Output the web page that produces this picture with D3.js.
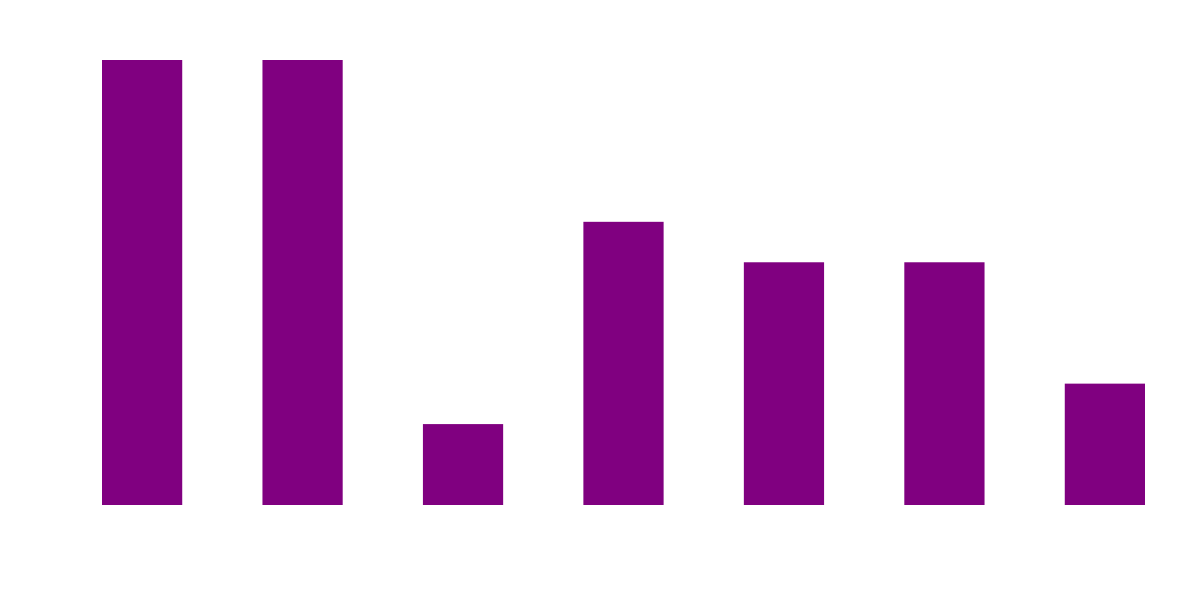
<!DOCTYPE html>
<html>
<head>
<meta charset="utf-8">
<script src="https://cdn.jsdelivr.net/npm/d3@7"></script>
<style>
    body { margin: 0; background: white; }
</style>
</head>
<body>
<div id="the_chart"></div>
<script>
// values
const categories = ["A", "B", "C", "D", "E", "F", "G"];
const values = [11, 11, 2, 7, 6, 6, 3];

var w = 1200, h = 600;
var padLeft = 102, padRight = 1145, padTop = 60, padBottom = 505;

var svg = d3.select("#the_chart")
    .append("svg")
    .attr("width", w)
    .attr("height", h);

var xscale = d3.scaleBand()
    .domain(categories)
    .range([padLeft, padRight])
    .paddingInner(0.5)
    .paddingOuter(0);

var hscale = d3.scaleLinear()
    .domain([0, d3.max(values)])
    .range([padBottom, padTop]);

svg.selectAll("rect")
    .data(values)
    .enter().append("rect")
    .attr("x", (d, i) => xscale(categories[i]))
    .attr("y", d => hscale(d))
    .attr("width", xscale.bandwidth())
    .attr("height", d => padBottom - hscale(d))
    .attr("fill", "purple");
</script>
</body>
</html>
